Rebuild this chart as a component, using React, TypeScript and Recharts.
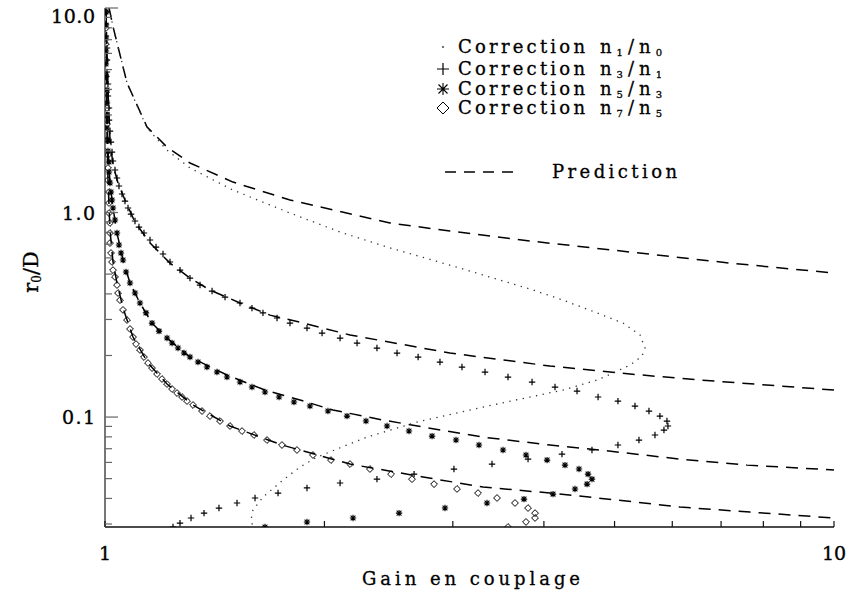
import { ComposedChart, Line, Scatter, XAxis, YAxis } from "recharts"

const FONT = "'DejaVu Serif', 'Liberation Serif', serif"

// axis ticks (both axes are logarithmic)
const gainTicks = [1, 2, 3, 4, 5, 6, 7, 8, 9, 10]
const gainLabels: Record<string, string> = { "1": "1", "10": "10" }
const r0Ticks = [
    0.03, 0.04, 0.05, 0.06, 0.07, 0.08, 0.09,
    0.1, 0.2, 0.3, 0.4, 0.5, 0.6, 0.7, 0.8, 0.9,
    1, 2, 3, 4, 5, 6, 7, 8, 9, 10,
]
const r0Labels: Record<string, string> = { "0.1": "0.1", "1": "1.0", "10": "10.0" }

// [gain, r0/D]
const corrN1N0: [number, number][] = [
    [1.013, 10], [1.026, 8.07], [1.072, 4.3], [1.142, 2.59], [1.216, 2.02], [1.308, 1.651],
    [1.498, 1.288], [1.794, 0.994], [2.101, 0.803], [2.437, 0.678], [3.069, 0.535], [3.865, 0.418],
    [4.249, 0.373], [4.731, 0.323], [5.136, 0.288], [5.419, 0.252], [5.505, 0.2175], [5.453, 0.1987],
    [5.251, 0.1796], [4.976, 0.1641], [4.731, 0.1517], [4.249, 0.1355], [3.828, 0.1253], [3.3, 0.1119],
    [2.679, 0.0945], [2.288, 0.0798], [1.953, 0.0637], [1.851, 0.0569], [1.754, 0.0492], [1.647, 0.0406],
    [1.596, 0.0351], [1.586, 0.0314], [1.596, 0.029],
]

const corrN3N1: [number, number][] = [
    [1.003, 9.56], [1.003, 8.352], [1.003, 7.298], [1.0063, 6.375], [1.0063, 5.568], [1.0063, 4.864],
    [1.0095, 4.25], [1.0095, 3.713], [1.0127, 3.243], [1.0127, 2.833], [1.0159, 2.503], [1.0191, 2.211],
    [1.0224, 1.976], [1.0256, 1.786], [1.0321, 1.614], [1.0386, 1.475], [1.0452, 1.348], [1.0552, 1.232],
    [1.0652, 1.138], [1.0754, 1.052], [1.0856, 0.983], [1.0994, 0.909], [1.1133, 0.849], [1.131, 0.794],
    [1.1527, 0.734], [1.1749, 0.678], [1.2011, 0.627], [1.2279, 0.573], [1.2673, 0.523], [1.3079, 0.478],
    [1.35, 0.442], [1.4024, 0.413], [1.461, 0.386], [1.5317, 0.361], [1.5908, 0.341], [1.647, 0.323],
    [1.7218, 0.305], [1.7937, 0.288], [1.8927, 0.272], [1.9849, 0.2575], [2.1012, 0.2433], [2.217, 0.23],
    [2.3608, 0.2175], [2.5153, 0.2056], [2.6885, 0.1965], [2.8806, 0.1857], [3.0881, 0.1756], [3.3212, 0.166],
    [3.5713, 0.1569], [3.8531, 0.1483], [4.1429, 0.1402], [4.4412, 0.134], [4.7465, 0.1253], [5.054, 0.1197],
    [5.3333, 0.1132], [5.5744, 0.107], [5.7706, 0.1011], [5.9, 0.0956], [5.9186, 0.0904], [5.8444, 0.0864],
    [5.681, 0.0817], [5.4007, 0.0772], [5.054, 0.073], [4.6559, 0.069], [4.235, 0.0659], [3.8046, 0.0623],
    [3.3955, 0.0589], [3.0107, 0.0557], [2.6543, 0.0526], [2.3608, 0.0497], [2.1012, 0.0476], [1.8927, 0.045],
    [1.7273, 0.0425], [1.6062, 0.0402], [1.5173, 0.038], [1.4333, 0.0359], [1.3673, 0.0339], [1.3122, 0.0321],
    [1.2673, 0.0303], [1.2396, 0.029],
]

const corrN5N3: [number, number][] = [
    [1.003, 9.56], [1.003, 8.258], [1.003, 7.135], [1.003, 6.163], [1.003, 5.324], [1.003, 4.598],
    [1.0063, 3.972], [1.0063, 3.431], [1.0063, 2.964], [1.0063, 2.59], [1.0095, 2.262], [1.0095, 1.999],
    [1.0127, 1.766], [1.0127, 1.578], [1.0159, 1.394], [1.0191, 1.26], [1.0224, 1.151], [1.0256, 1.052],
    [1.0321, 0.919], [1.0386, 0.794], [1.0452, 0.694], [1.0518, 0.634], [1.0585, 0.586], [1.0686, 0.512],
    [1.0822, 0.452], [1.0994, 0.404], [1.1168, 0.361], [1.1382, 0.323], [1.1601, 0.288], [1.186, 0.263],
    [1.2164, 0.2433], [1.2358, 0.23], [1.2594, 0.2175], [1.2835, 0.2056], [1.3079, 0.1965], [1.3414, 0.1857],
    [1.38, 0.1756], [1.4243, 0.166], [1.4701, 0.1569], [1.5317, 0.1483], [1.5908, 0.1402], [1.6576, 0.1325],
    [1.7328, 0.1253], [1.8164, 0.1184], [1.9106, 0.1132], [2.0223, 0.107], [2.1478, 0.1011], [2.2803, 0.0956],
    [2.437, 0.0904], [2.6122, 0.0854], [2.8096, 0.0807], [3.0303, 0.0772], [3.2584, 0.073], [3.5156, 0.069],
    [3.78, 0.0652], [4.0404, 0.0616], [4.2756, 0.0582], [4.4691, 0.0557], [4.5985, 0.0526], [4.6559, 0.0497],
    [4.5841, 0.047], [4.413, 0.0445], [4.117, 0.042], [3.7563, 0.0397], [3.342, 0.038], [2.9268, 0.0359],
    [2.5315, 0.0339], [2.1889, 0.0321], [1.8927, 0.0307], [1.6576, 0.029],
]

const corrN7N5: [number, number][] = [
    [1.003, 9.56], [1.003, 7.983], [1.003, 6.668], [1.003, 5.568], [1.003, 4.651], [1.003, 3.883],
    [1.0063, 3.243], [1.0063, 2.709], [1.0063, 2.262], [1.0095, 1.911], [1.0095, 1.651], [1.0095, 1.441],
    [1.0127, 1.26], [1.0127, 1.113], [1.0127, 0.994], [1.0159, 0.889], [1.0159, 0.794], [1.0159, 0.709],
    [1.0191, 0.634], [1.0224, 0.573], [1.0256, 0.523], [1.0321, 0.484], [1.0386, 0.442], [1.042, 0.404],
    [1.0485, 0.373], [1.0585, 0.334], [1.072, 0.298], [1.0822, 0.2694], [1.0925, 0.2461], [1.1029, 0.2275],
    [1.1168, 0.2127], [1.131, 0.1965], [1.1455, 0.1837], [1.1601, 0.1736], [1.1786, 0.1623], [1.1973, 0.1534],
    [1.2164, 0.145], [1.2358, 0.1371], [1.2555, 0.131], [1.2755, 0.1253], [1.2958, 0.1197], [1.3205, 0.1145],
    [1.3585, 0.107], [1.3932, 0.1011], [1.438, 0.0956], [1.4841, 0.0904], [1.5415, 0.0854], [1.6009, 0.0817],
    [1.6681, 0.0772], [1.7489, 0.073], [1.8336, 0.069], [1.9288, 0.0652], [2.0418, 0.0616], [2.1682, 0.0589],
    [2.309, 0.0557], [2.4683, 0.0526], [2.6369, 0.0497], [2.8272, 0.047], [3.04, 0.0445], [3.2486, 0.0425],
    [3.4493, 0.0402], [3.6508, 0.038], [3.8046, 0.0359], [3.8896, 0.0339], [3.8896, 0.0321], [3.78, 0.0307],
    [3.5713, 0.029],
]

// predictions (dashed)
const predN1N0: [number, number][] = [
    [1.013, 10], [1.026, 8.07], [1.072, 4.3], [1.142, 2.62], [1.216, 2.09], [1.308, 1.746], [1.498, 1.409],
    [1.794, 1.151], [2.46, 0.889], [2.973, 0.812], [3.828, 0.726], [5.251, 0.641], [7.199, 0.566], [10, 0.506],
]
const predN3N1: [number, number][] = [
    [1.003, 9.56], [1.0063, 6.23], [1.0095, 3.97], [1.0159, 2.262], [1.0256, 1.707], [1.042, 1.394],
    [1.065, 1.151], [1.099, 0.899], [1.153, 0.709], [1.228, 0.566], [1.308, 0.478], [1.393, 0.418],
    [1.532, 0.361], [1.684, 0.315], [1.851, 0.291], [2.168, 0.252], [2.973, 0.2056], [4.077, 0.1776],
    [5.251, 0.1623], [6.549, 0.1517], [10, 0.1355],
]
const predN5N3: [number, number][] = [
    [1.003, 9.56], [1.004, 5.568], [1.0063, 3.171], [1.0095, 2.021], [1.0159, 1.394], [1.0256, 1.052],
    [1.0386, 0.794], [1.0585, 0.586], [1.0822, 0.452], [1.1168, 0.361], [1.1601, 0.288], [1.2164, 0.2433],
    [1.3079, 0.1965], [1.4701, 0.1605], [1.6576, 0.1355], [1.8514, 0.1211], [2.0548, 0.1082], [2.4063, 0.0967],
    [2.7303, 0.0894], [3.3, 0.0798], [4.077, 0.073], [4.775, 0.069], [6.149, 0.0623], [7.598, 0.0582], [10, 0.0551],
]
const predN7N5: [number, number][] = [
    [1.003, 9.56], [1.004, 4.976], [1.0063, 2.532], [1.0095, 1.441], [1.0159, 0.821], [1.0256, 0.573],
    [1.0386, 0.452], [1.0585, 0.341], [1.0925, 0.2461], [1.1455, 0.1837], [1.2164, 0.145], [1.3205, 0.1145],
    [1.4841, 0.0904], [1.7489, 0.073], [2.1682, 0.0589], [2.7303, 0.0509], [3.3, 0.0455], [4.077, 0.0425],
    [5.038, 0.0393], [6.149, 0.0363], [7.67, 0.0343], [10, 0.0321],
]

const legendRows = [
    { mark: "dot", num: "1", den: "0" },
    { mark: "plus", num: "3", den: "1" },
    { mark: "star", num: "5", den: "3" },
    { mark: "diamond", num: "7", den: "5" },
]

const pts = (a: [number, number][]) => a.map(([x, y]) => ({ x, y }))

function Mark({ kind, cx, cy, r }: { kind: string; cx: number; cy: number; r: number }) {
    if (kind === "plus") {
        return <path d={`M${cx - r},${cy}H${cx + r}M${cx},${cy - r}V${cy + r}`} stroke="#000" strokeWidth={1.2} fill="none" />
    }
    if (kind === "star") {
        const d = r * 0.75
        return (
            <path
                d={`M${cx - r},${cy}H${cx + r}M${cx},${cy - r}V${cy + r}M${cx - d},${cy - d}L${cx + d},${cy + d}M${cx - d},${cy + d}L${cx + d},${cy - d}`}
                stroke="#000" strokeWidth={1.1} fill="none"
            />
        )
    }
    if (kind === "diamond") {
        return <path d={`M${cx},${cy - r}L${cx + r},${cy}L${cx},${cy + r}L${cx - r},${cy}Z`} stroke="#000" strokeWidth={1} fill="none" />
    }
    return <circle cx={cx} cy={cy} r={0.8} fill="#333" />
}

const BottomTick = ({ x, y, payload }: any) => {
    const label = gainLabels[String(payload.value)]
    return (
        <g>
            <line x1={x} x2={x} y1={y} y2={y - 6} stroke="#111" strokeWidth={1.2} />
            {label && (
                <text x={x} y={y + 33} textAnchor="middle" fontFamily={FONT} fontSize={19} fill="#000"
                    stroke="#000" strokeWidth={0.35}>{label}</text>
            )}
        </g>
    )
}

const TopTick = ({ x, y }: any) => <line x1={x} x2={x} y1={y} y2={y + 5} stroke="#666" strokeWidth={1.2} />

const LeftTick = ({ x, y, payload }: any) => {
    const label = r0Labels[String(payload.value)]
    return (
        <g>
            <line x1={x} x2={x + (label ? 13 : 7)} y1={y} y2={y} stroke="#666" strokeWidth={1.2} />
            {label && (
                <text x={x - 10} y={Math.max(y + 7, 23)} textAnchor="end" fontFamily={FONT} fontSize={19} fill="#000"
                    stroke="#000" strokeWidth={0.35} textLength={label.length * 11} lengthAdjust="spacing">{label}</text>
            )}
        </g>
    )
}

const RightTick = ({ x, y, payload }: any) => {
    const major = r0Labels[String(payload.value)]
    return <line x1={x} x2={x - (major ? 14 : 7)} y1={y} y2={y} stroke="#111" strokeWidth={1.2} />
}

export default function App() {
    const rowY = [53, 75, 95, 114]
    return (
        <div style={{ position: "absolute", left: 0, top: 0, width: 851, height: 593, background: "#fff" }}>
            <ComposedChart width={851} height={593} margin={{ top: 8, right: 17, bottom: 0, left: 0 }}>
                <XAxis dataKey="x" type="number" scale="log" domain={[1, 10]} allowDataOverflow ticks={gainTicks}
                    interval={0} height={66} tickSize={0} tickMargin={0} tickLine={false} tick={(p: any) => <BottomTick {...p} />}
                    axisLine={{ stroke: "#111", strokeWidth: 1.5 }} />
                <XAxis xAxisId="top" orientation="top" dataKey="x" type="number" scale="log" domain={[1, 10]} allowDataOverflow
                    ticks={gainTicks} interval={0} height={0} tickSize={0} tickMargin={0} tickLine={false}
                    tick={(p: any) => <TopTick {...p} />} axisLine={{ stroke: "#777", strokeWidth: 1.5 }} />
                <YAxis dataKey="y" type="number" scale="log" domain={[0.029, 10]} allowDataOverflow ticks={r0Ticks}
                    interval={0} width={105} tickSize={0} tickMargin={0} tickLine={false} tick={(p: any) => <LeftTick {...p} />}
                    axisLine={{ stroke: "#777", strokeWidth: 2 }} />
                <YAxis yAxisId="right" orientation="right" dataKey="y" type="number" scale="log" domain={[0.029, 10]}
                    allowDataOverflow ticks={r0Ticks} interval={0} width={0} tickSize={0} tickMargin={0} tickLine={false}
                    tick={(p: any) => <RightTick {...p} />} axisLine={{ stroke: "#111", strokeWidth: 1.5 }} />

                {[predN1N0, predN3N1, predN5N3, predN7N5].map((d, i) => (
                    <Line key={"p" + i} data={pts(d)} dataKey="y" type="linear" stroke="#000" strokeWidth={1.5}
                        strokeDasharray="12 8" dot={false} activeDot={false} isAnimationActive={false} />
                ))}
                <Line data={pts(corrN1N0)} dataKey="y" type="linear" stroke="#333" strokeWidth={1.3}
                    strokeDasharray="1.3 5.5" dot={false} activeDot={false} isAnimationActive={false} />
                <Scatter data={pts(corrN3N1)} dataKey="y" isAnimationActive={false}
                    shape={(p: any) => <Mark kind="plus" cx={p.cx} cy={p.cy} r={3.2} />} />
                <Scatter data={pts(corrN5N3)} dataKey="y" isAnimationActive={false}
                    shape={(p: any) => <Mark kind="star" cx={p.cx} cy={p.cy} r={3.2} />} />
                <Scatter data={pts(corrN7N5)} dataKey="y" isAnimationActive={false}
                    shape={(p: any) => <Mark kind="diamond" cx={p.cx} cy={p.cy} r={3.4} />} />
            </ComposedChart>

            <svg width={851} height={593} style={{ position: "absolute", left: 0, top: 0, pointerEvents: "none" }}>
                <g fontFamily={FONT} fontSize={18} fill="#000" stroke="#000" strokeWidth={0.3}>
                    {legendRows.map((r, i) => (
                        <g key={r.mark}>
                            <Mark kind={r.mark} cx={443} cy={rowY[i] - 6} r={6} />
                            <text x={458} y={rowY[i]} textLength={127} lengthAdjust="spacing">Correction</text>
                            <text x={600} y={rowY[i]} textLength={62} lengthAdjust="spacing">
                                n<tspan fontSize={10} dy={3}>{r.num}</tspan>
                                <tspan dy={-3}>/</tspan>n<tspan fontSize={10} dy={3}>{r.den}</tspan>
                            </text>
                        </g>
                    ))}
                    {[0, 1, 2, 3].map((k) => (
                        <line key={k} x1={445 + k * 19} x2={456 + k * 19} y1={172} y2={172} stroke="#000" strokeWidth={1.5} />
                    ))}
                    <text x={552} y={178} textLength={125} lengthAdjust="spacing">Prediction</text>
                    <text x={362} y={585} textLength={218} lengthAdjust="spacing">Gain en couplage</text>
                    <text transform="translate(38,272) rotate(-90)" textAnchor="middle" fontSize={21}>
                        r<tspan fontSize={12} dy={3}>0</tspan><tspan dy={-3}>/D</tspan>
                    </text>
                </g>
            </svg>
        </div>
    )
}
